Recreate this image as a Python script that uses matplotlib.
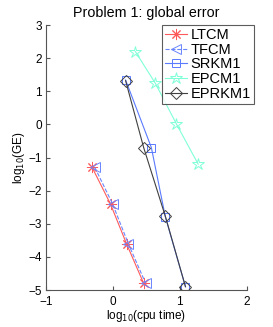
import matplotlib
matplotlib.use("Agg")
import matplotlib.pyplot as plt

plt.rcParams['font.family'] = ['Liberation Sans', 'DejaVu Sans']

ltcm_x = [-0.31, -0.035, 0.205, 0.46]
ltcm_y = [-1.30, -2.41, -3.61, -4.80]
tfcm_x = [-0.27, -0.005, 0.23, 0.49]
tfcm_y = [-1.30, -2.40, -3.60, -4.80]
srkm_x = [0.19, 0.575, 0.785, 1.085]
srkm_y = [1.34, -0.70, -2.80, -4.90]
epcm_x = [0.335, 0.635, 0.95, 1.275]
epcm_y = [2.20, 1.24, 0.01, -1.20]
eprkm_x = [0.19, 0.46, 0.785, 1.085]
eprkm_y = [1.32, -0.70, -2.78, -4.90]

labels = ['LTCM', 'TFCM', 'SRKM1', 'EPCM1', 'EPRKM1']
xticks = [-1, 0, 1, 2]
yticks = [-5, -4, -3, -2, -1, 0, 1, 2, 3]

fig = plt.figure(figsize=(2.73, 3.27), dpi=100)
ax = fig.add_axes([0.1685, 0.1131, 0.7351, 0.8104])

ax.plot(ltcm_x, ltcm_y, '-', color='#ff5a5a', marker=(8, 2, 0), ms=8, mew=0.7, lw=0.8, label=labels[0])
ax.plot(tfcm_x, tfcm_y, '--', color='#6a86ff', marker='<', ms=7, mfc='none', mew=0.7, lw=0.8, label=labels[1])
ax.plot(srkm_x, srkm_y, '-', color='#5a7aff', marker='s', ms=6, mfc='none', mew=0.7, lw=0.8, label=labels[2])
ax.plot(epcm_x, epcm_y, '-', color='#80ffd8', marker='*', ms=9, mfc='none', mew=0.7, lw=0.8, label=labels[3])
ax.plot(eprkm_x, eprkm_y, '-', color='#404040', marker='D', ms=6, mfc='none', mew=0.7, lw=0.8, label=labels[4])

ax.set_xlim(-1, 2)
ax.set_ylim(-5, 3)
ax.set_xticks(xticks)
ax.set_yticks(yticks)
for s in ['top', 'right']:
    ax.spines[s].set_visible(False)
for s in ['left', 'bottom']:
    ax.spines[s].set_color('#555555')
    ax.spines[s].set_linewidth(0.8)
ax.tick_params(direction='in', length=3, labelsize=8.5, colors='#555555', labelcolor='black')
ax.tick_params(axis='x', pad=4)
ax.tick_params(axis='y', pad=3)

ax.set_title('Problem 1: global error', fontsize=10.3, pad=6)
ax.set_xlabel('log$_{10}$(cpu time)', fontsize=8.5, labelpad=0)
ax.set_ylabel('log$_{10}$(GE)', fontsize=8.5, labelpad=1)

leg = ax.legend(loc='upper left', bbox_to_anchor=(0.58, 1.0), fontsize=10.5, frameon=True,
                fancybox=False, edgecolor='#333333', handlelength=1.5, handletextpad=0.25,
                labelspacing=0.05, borderpad=0.2, borderaxespad=0)
leg.get_frame().set_linewidth(0.8)

fig.savefig('out.png', dpi=100)
